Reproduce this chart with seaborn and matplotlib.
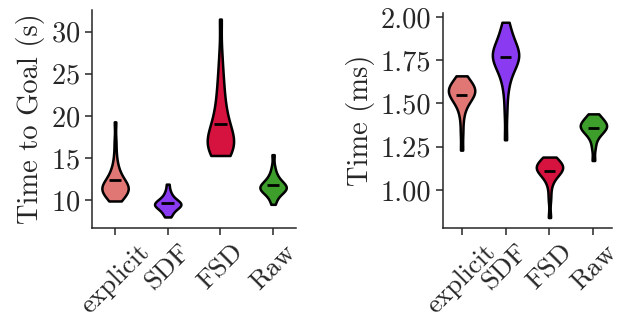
import numpy as np
import pandas as pd
import matplotlib
matplotlib.use("Agg")
import matplotlib.pyplot as plt
import seaborn as sns

# categories and colours
methods = ["explicit", "SDF", "FSD", "Raw"]
palette = ["#E07775", "#8A3BF2", "#D6123E", "#3D9E2B"]

# time to goal (s), samples
goal_explicit = [9.9, 10.0, 10.2, 10.4, 10.5, 10.7, 10.8, 10.9, 11.0, 11.1, 11.2, 11.3,
                 11.4, 11.5, 11.5, 11.6, 11.7, 11.8, 11.9, 12.0, 12.1, 12.3, 12.5, 12.7,
                 12.9, 13.2, 13.5, 13.9, 14.5, 15.5, 17.0, 19.3]
goal_sdf = [8.0, 8.2, 8.5, 8.7, 8.9, 9.0, 9.1, 9.2, 9.3, 9.4, 9.45, 9.5, 9.55, 9.6,
            9.7, 9.8, 9.9, 10.0, 10.1, 10.3, 10.5, 10.8, 11.2, 11.9]
goal_fsd = [15.3, 15.4, 15.6, 15.8, 16.0, 16.2, 16.4, 16.5, 16.7, 16.9, 17.1, 17.3,
            17.5, 17.8, 18.1, 18.4, 18.8, 19.2, 19.7, 20.2, 20.8, 21.5, 22.3, 23.2,
            24.3, 25.5, 27.5, 31.5]
goal_raw = [9.5, 10.0, 10.4, 10.7, 10.9, 11.0, 11.1, 11.2, 11.3, 11.4, 11.5, 11.55,
            11.6, 11.7, 11.8, 11.9, 12.0, 12.2, 12.4, 12.6, 12.9, 13.3, 14.0, 15.4]
goal_median = [12.4, 9.6, 19.0, 11.8]

# compute time (ms)
time_explicit = [1.23, 1.33, 1.41, 1.46, 1.49, 1.51, 1.52, 1.53, 1.54, 1.55, 1.56,
                 1.565, 1.57, 1.575, 1.58, 1.585, 1.59, 1.60, 1.61, 1.62, 1.63, 1.645, 1.66]
time_sdf = [1.29, 1.45, 1.56, 1.62, 1.66, 1.69, 1.71, 1.73, 1.74, 1.75, 1.76, 1.77,
            1.78, 1.785, 1.79, 1.80, 1.81, 1.82, 1.84, 1.86, 1.88, 1.91, 1.94, 1.97]
time_fsd = [0.84, 0.95, 1.02, 1.06, 1.08, 1.09, 1.10, 1.11, 1.115, 1.12, 1.125, 1.13,
            1.135, 1.14, 1.145, 1.15, 1.16, 1.17, 1.18, 1.19]
time_raw = [1.17, 1.24, 1.28, 1.31, 1.32, 1.33, 1.34, 1.35, 1.355, 1.36, 1.365, 1.37,
            1.375, 1.38, 1.385, 1.39, 1.40, 1.41, 1.42, 1.43, 1.44]
time_median = [1.55, 1.77, 1.11, 1.36]


def to_frame(groups):
    rows = []
    for name, vals in zip(methods, groups):
        rows += [(name, v) for v in vals]
    return pd.DataFrame(rows, columns=["method", "value"])


sns.set_style("ticks")
plt.rcParams["font.family"] = "serif"
plt.rcParams["font.serif"] = ["cmr10", "DejaVu Serif"]
plt.rcParams["axes.formatter.use_mathtext"] = True
plt.rcParams["axes.linewidth"] = 1.1

fig = plt.figure(figsize=(6.25, 3.27), dpi=100)
ax1 = fig.add_axes([0.147, 0.303, 0.327, 0.667])
ax2 = fig.add_axes([0.709, 0.303, 0.27, 0.658])

panels = [
    (ax1, to_frame([goal_explicit, goal_sdf, goal_fsd, goal_raw]), goal_median,
     "Time to Goal (s)", 0.5),
    (ax2, to_frame([time_explicit, time_sdf, time_fsd, time_raw]), time_median,
     "Time (ms)", 0.6),
]

for ax, df, med, label, w in panels:
    sns.violinplot(data=df, x="method", y="value", hue="method", palette=palette,
                   order=methods, hue_order=methods, legend=False, cut=0, inner=None,
                   density_norm="width", width=w, bw_adjust=0.8, linewidth=1.8,
                   linecolor="black", saturation=1, ax=ax)
    pos = np.arange(len(methods))
    ax.hlines(med, pos - 0.12, pos + 0.12, color="black", linewidth=2.0, zorder=5)
    ax.set_xlabel("")
    ax.set_ylabel(label, fontsize=20.5)
    ax.tick_params(axis="y", labelsize=20.5, length=5, width=1.1)
    ax.tick_params(axis="x", labelsize=19.5, length=5, width=1.1)
    ax.set_xticks(pos)
    ax.set_xticklabels(methods, rotation=45)
    sns.despine(ax=ax)

ax1.set_xlim(-0.44, 3.44)
ax1.set_ylim(6.7, 32.6)
ax1.set_yticks([10, 15, 20, 25, 30])
ax2.set_xlim(-0.42, 3.42)
ax2.set_ylim(0.78, 2.025)
ax2.set_yticks([1.00, 1.25, 1.50, 1.75, 2.00])
ax2.yaxis.set_major_formatter(matplotlib.ticker.FormatStrFormatter("%.2f"))

fig.savefig("out.png", dpi=100)
